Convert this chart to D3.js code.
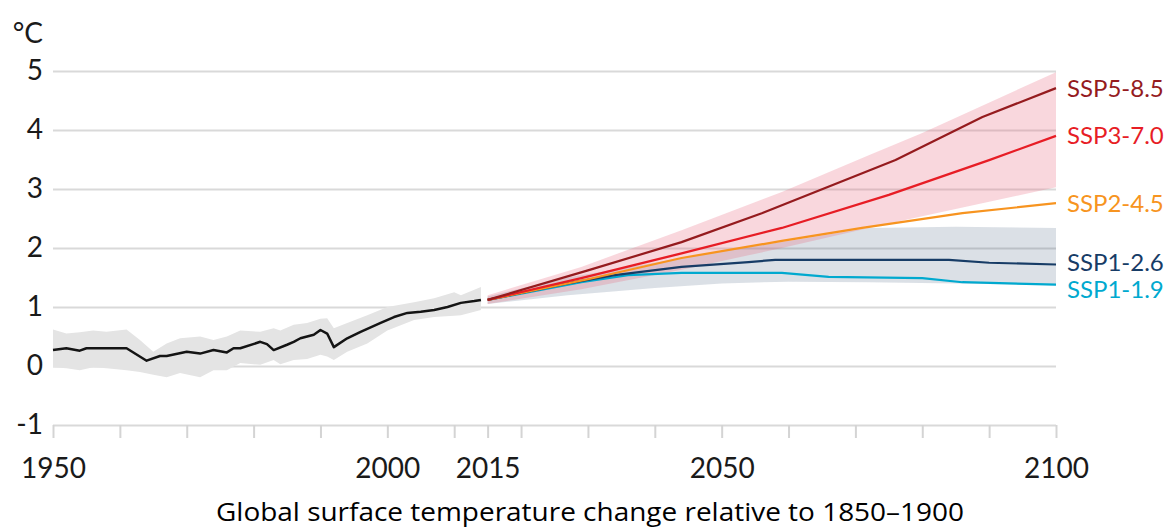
<!DOCTYPE html>
<html>
<head>
<meta charset="utf-8">
<script src="https://cdn.jsdelivr.net/npm/d3@7"></script>
<style>
  body { margin: 0; background: #fff; }
  svg { display: block; }
</style>
</head>
<body>
<div id="chart"></div>
<script>
// observed record (black line + grey range)
var histYears  = [1950, 1952, 1954, 1955, 1961, 1964, 1966, 1967, 1970, 1972, 1974, 1976, 1977, 1978, 1981, 1982, 1983, 1985, 1986, 1987, 1989, 1990, 1991, 1992, 1994, 1996, 1998, 1999, 2001, 2003, 2005, 2007, 2009, 2011, 2013, 2014];
var histValues = [0.27, 0.30, 0.26, 0.30, 0.30, 0.09, 0.17, 0.17, 0.24, 0.21, 0.27, 0.23, 0.30, 0.30, 0.41, 0.37, 0.27, 0.36, 0.41, 0.47, 0.53, 0.61, 0.55, 0.32, 0.47, 0.58, 0.68, 0.73, 0.83, 0.90, 0.92, 0.95, 1.00, 1.07, 1.10, 1.12];

var histBandYears = [1950, 1952, 1954, 1956, 1958, 1961, 1963, 1965, 1967, 1969, 1972, 1974, 1976, 1978, 1981, 1983, 1984, 1986, 1988, 1990, 1991, 1992, 1994, 1997, 2000, 2004, 2007, 2010, 2011, 2014];
var histBandUpper = [0.62, 0.55, 0.57, 0.60, 0.58, 0.62, 0.44, 0.24, 0.38, 0.47, 0.50, 0.44, 0.50, 0.60, 0.58, 0.64, 0.60, 0.70, 0.73, 0.80, 0.81, 0.64, 0.73, 0.86, 1.00, 1.08, 1.15, 1.25, 1.20, 1.34];
var histBandLower = [-0.02, -0.04, -0.07, -0.02, -0.04, -0.07, -0.10, -0.15, -0.19, -0.12, -0.19, -0.07, -0.07, 0.05, 0.02, 0.10, 0.03, 0.10, 0.12, 0.19, 0.16, 0.10, 0.24, 0.38, 0.60, 0.78, 0.83, 0.85, 0.86, 0.95];

// very likely ranges drawn for SSP1-2.6 and SSP3-7.0
var ssp126BandYears = [2015, 2027, 2040, 2050, 2060, 2072, 2085, 2100];
var ssp126BandUpper = [1.18, 1.50, 1.75, 1.95, 2.12, 2.34, 2.36, 2.34];
var ssp126BandLower = [1.05, 1.20, 1.32, 1.40, 1.43, 1.42, 1.40, 1.37];

var ssp370BandYears = [2015, 2029, 2044, 2059, 2072, 2080, 2100];
var ssp370BandUpper = [1.20, 1.68, 2.30, 2.95, 3.57, 3.95, 4.98];
var ssp370BandLower = [1.05, 1.30, 1.63, 2.00, 2.34, 2.54, 3.03];

// scenario central estimates
var scenarioNames  = ['SSP5-8.5', 'SSP3-7.0', 'SSP2-4.5', 'SSP1-2.6', 'SSP1-1.9'];
var scenarioColors = ['#951b1e', '#e71d25', '#f79420', '#173c66', '#00a9cf'];

var ssp585Years  = [2015, 2030, 2044, 2056, 2076, 2089, 2100];
var ssp585Values = [1.12, 1.62, 2.10, 2.59, 3.49, 4.22, 4.71];
var ssp370Years  = [2015, 2029, 2044, 2059, 2075, 2090, 2100];
var ssp370Values = [1.12, 1.49, 1.91, 2.34, 2.90, 3.49, 3.90];
var ssp245Years  = [2015, 2030, 2044, 2059, 2071, 2086, 2100];
var ssp245Values = [1.12, 1.47, 1.83, 2.12, 2.34, 2.59, 2.76];
var ssp126Years  = [2015, 2027, 2034, 2044, 2054, 2058, 2084, 2090, 2100];
var ssp126Values = [1.12, 1.40, 1.54, 1.68, 1.76, 1.80, 1.80, 1.75, 1.72];
var ssp119Years  = [2015, 2029, 2036, 2044, 2059, 2066, 2080, 2086, 2100];
var ssp119Values = [1.12, 1.42, 1.54, 1.58, 1.58, 1.51, 1.49, 1.42, 1.38];

var scenarioYears  = [ssp585Years, ssp370Years, ssp245Years, ssp126Years, ssp119Years];
var scenarioValues = [ssp585Values, ssp370Values, ssp245Values, ssp126Values, ssp119Values];
var labelNudge = [0, 0, 0, -2, 5];

var yTicks = [-1, 0, 1, 2, 3, 4, 5];
var xTicks = [1950, 1960, 1970, 1980, 1990, 2000, 2010, 2015, 2020, 2030, 2040, 2050, 2060, 2070, 2080, 2090, 2100];
var xTickLabels = [1950, 2000, 2015, 2050, 2100];
var unitLabel = '°C';
var title = 'Global surface temperature change relative to 1850–1900';

var width = 1172, height = 528;
var plotLeft = 53, plotRight = 1056, plotTop = 71, plotBottom = 425;

var svg = d3.select('#chart').append('svg')
    .attr('width', width)
    .attr('height', height);

var x = d3.scaleLinear().domain([1950, 2100]).range([plotLeft, plotRight]);
var y = d3.scaleLinear().domain([-1, 5]).range([plotBottom, plotTop]);

function zip(years, a, b) {
  return years.map(function (yr, i) {
    return { year: yr, v0: a[i], v1: b ? b[i] : a[i] };
  });
}

// gridlines + y labels (plain hyphen for -1, like the original)
var yAxis = svg.append('g')
    .attr('transform', 'translate(' + plotLeft + ',0)')
    .call(d3.axisLeft(y).tickValues(yTicks).tickSize(-(plotRight - plotLeft)).tickPadding(10)
      .tickFormat(function (d) { return String(d); }));
yAxis.select('.domain').remove();
yAxis.selectAll('line').attr('stroke', '#d9d9d9').attr('stroke-width', 2);
yAxis.selectAll('text')
    .attr('fill', '#1a1a1a')
    .style('font-family', 'Lato, sans-serif')
    .style('font-size', '28px');

// x ticks under the -1 line
var xAxis = svg.append('g')
    .attr('transform', 'translate(0,' + plotBottom + ')')
    .call(d3.axisBottom(x).tickValues(xTicks).tickSize(13).tickPadding(20)
      .tickFormat(function (d) { return xTickLabels.indexOf(d) >= 0 ? d : ''; }));
xAxis.select('.domain').remove();
xAxis.selectAll('line').attr('stroke', '#d4d4d4').attr('stroke-width', 2);
xAxis.selectAll('text')
    .attr('fill', '#1a1a1a')
    .style('font-family', 'Lato, sans-serif')
    .style('font-size', '28px');

var area = d3.area()
    .x(function (d) { return x(d.year); })
    .y0(function (d) { return y(d.v0); })
    .y1(function (d) { return y(d.v1); });

var line = d3.line()
    .x(function (d) { return x(d.year); })
    .y(function (d) { return y(d.v0); });

svg.append('path')
    .datum(zip(histBandYears, histBandLower, histBandUpper))
    .attr('d', area)
    .attr('fill', '#e4e4e4');

svg.append('path')
    .datum(zip(ssp126BandYears, ssp126BandLower, ssp126BandUpper))
    .attr('d', area)
    .attr('fill', '#1d3c66')
    .attr('fill-opacity', 0.16);

svg.append('path')
    .datum(zip(ssp370BandYears, ssp370BandLower, ssp370BandUpper))
    .attr('d', area)
    .attr('fill', '#e8667a')
    .attr('fill-opacity', 0.26);

svg.append('path')
    .datum(zip(histYears, histValues))
    .attr('d', line)
    .attr('fill', 'none')
    .attr('stroke', '#141414')
    .attr('stroke-width', 2.5)
    .attr('stroke-linejoin', 'round');

// draw low scenarios first so the warm ones sit on top
for (var i = scenarioNames.length - 1; i >= 0; i--) {
  svg.append('path')
      .datum(zip(scenarioYears[i], scenarioValues[i]))
      .attr('d', line)
      .attr('fill', 'none')
      .attr('stroke', scenarioColors[i])
      .attr('stroke-width', 2.2)
      .attr('stroke-linejoin', 'round');
}

scenarioNames.forEach(function (name, i) {
  var vals = scenarioValues[i];
  svg.append('text')
      .attr('x', plotRight + 11)
      .attr('y', y(vals[vals.length - 1]) + labelNudge[i])
      .attr('dy', '0.35em')
      .attr('fill', scenarioColors[i])
      .style('font-family', 'Lato, sans-serif')
      .style('font-size', '24px')
      .text(name);
});

svg.append('text')
    .attr('x', plotLeft - 10)
    .attr('y', 43)
    .attr('text-anchor', 'end')
    .attr('fill', '#1a1a1a')
    .style('font-family', 'Lato, sans-serif')
    .style('font-size', '28px')
    .text(unitLabel);

svg.append('text')
    .attr('x', 590)
    .attr('y', 521)
    .attr('text-anchor', 'middle')
    .attr('fill', '#000')
    .attr('textLength', 748)
    .attr('lengthAdjust', 'spacingAndGlyphs')
    .style('font-family', '"Open Sans", sans-serif')
    .style('font-size', '25px')
    .text(title);
</script>
</body>
</html>
